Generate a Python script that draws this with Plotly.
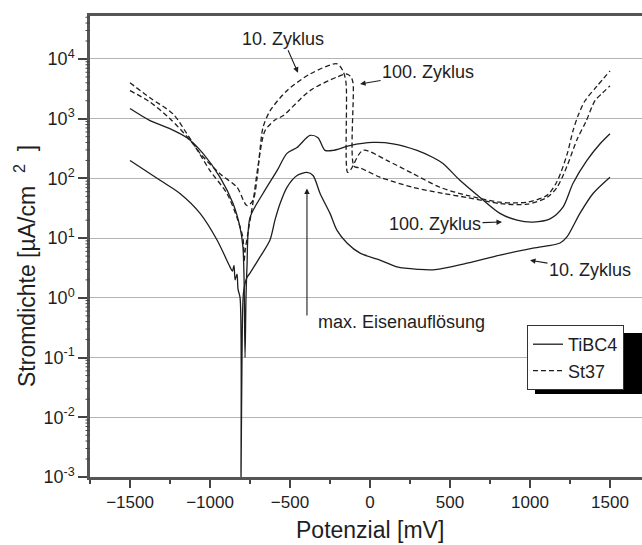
import math
import plotly.graph_objects as go

# ---- data (potential in mV, current density in µA/cm²) ----
ti10_x = [-1500, -1312, -1188, -1062, -956, -875, -860, -850, -843, -831, -825, -812, -806, -800, -790,
          -769, -750, -688, -625, -594, -562, -519, -456, -394, -356, -312, -250, -206, -144, -62, 62,
          169, 300, 394, 606, 812, 1019, 1188, 1231, 1312, 1394, 1500]
ti10_y = [200, 93, 56, 26, 9.3, 3.3, 2.8, 3.5, 2.0, 2.5, 1.4, 1.0, 0.001, 0.1, 1.26,
          2.2, 2.6, 4.8, 9.3, 20, 38, 71, 112, 126, 112, 56, 26, 13.5, 8.3, 5.6, 4.3,
          3.3, 3.0, 2.95, 3.8, 5.2, 6.8, 8.3, 10.5, 26, 56, 105]

ti100_x = [-1500, -1375, -1250, -1144, -1044, -938, -856, -812, -794, -787, -781, -775, -769, -750,
           -669, -581, -519, -456, -375, -325, -281, -231, -125, 19, 144, 294, 394, 456, 562, 688,
           812, 919, 1019, 1125, 1206, 1269, 1356, 1438, 1500]
ti100_y = [1480, 930, 680, 480, 263, 105, 38, 15, 7, 2, 0.1, 1, 3.2, 22,
           56, 135, 263, 330, 525, 480, 295, 295, 355, 400, 380, 295, 224, 178, 93, 48,
           26, 20, 18.6, 21, 33, 83, 200, 380, 560]

st10_x = [-1500, -1375, -1231, -1144, -1062, -938, -831, -769, -731, -706, -688, -669, -625, -519,
          -375, -206, -169, -150, -140, -120, -44, 106, 269, 438, 606, 812, 981, 1106, 1169, 1231,
          1269, 1300, 1344, 1420, 1500]
st10_y = [4000, 2240, 1200, 560, 263, 120, 71, 35, 43, 100, 295, 710, 1350, 2950,
          5600, 8300, 6300, 4000, 126, 141, 295, 200, 120, 71, 52, 40, 40, 52, 89, 250,
          630, 1120, 2000, 3550, 6300]

st100_x = [-1500, -1375, -1250, -1106, -1000, -894, -831, -794, -787, -780, -762, -731, -700, -656,
           -594, -544, -375, -206, -144, -119, -106, -100, -62, 62, 269, 456, 606, 812, 981, 1106,
           1169, 1231, 1294, 1350, 1406, 1450, 1500]
st100_y = [2950, 1900, 1000, 380, 135, 56, 22, 10, 4, 6.3, 12.6, 40, 160, 630,
           950, 1120, 2950, 5000, 5600, 5000, 4000, 160, 150, 105, 71, 56, 48, 38, 37, 48,
           71, 160, 450, 900, 2000, 2650, 3550]

x_ticks = [-1500, -1000, -500, 0, 500, 1000, 1500]
y_ticks = [1e-3, 1e-2, 1e-1, 1e0, 1e1, 1e2, 1e3, 1e4]
y_ticktext = ["10<sup>-3</sup>", "10<sup>-2</sup>", "10<sup>-1</sup>", "10<sup>0</sup>",
              "10<sup>1</sup>", "10<sup>2</sup>", "10<sup>3</sup>", "10<sup>4</sup>"]

# ---- figure ----
FONT = "Liberation Sans, Arial, sans-serif"
TXT = "#1e1e1e"
LINE = "#1e1e1e"
W, H = 642, 545
L, R, T, B = 90, 0, 16, 68
pw, ph = W - L - R, H - T - B
X_RANGE = [-1750, 1700]
Y_RANGE = [-3, 4.72]

# minor tick positions on the log axis (2..9 per decade), in log10 units
y_minor_log = [e + math.log10(m) for e in range(-3, 5) for m in range(2, 10)
               if e + math.log10(m) <= Y_RANGE[1]]


def px2paper(px, py):
    return (px - L) / pw, (H - B - py) / ph


def curve(x, y, name, dash, show):
    return go.Scatter(x=x, y=y, name=name, mode="lines", legendgroup=name, showlegend=show,
                      line_shape="spline", line_smoothing=0.8,
                      line_color=LINE, line_width=1.3, line_dash=dash)


fig = go.Figure()
fig.add_trace(curve(ti10_x, ti10_y, "TiBC4", "solid", True))
fig.add_trace(curve(ti100_x, ti100_y, "TiBC4", "solid", False))
fig.add_trace(curve(st10_x, st10_y, "St37", "5px,3px", True))
fig.add_trace(curve(st100_x, st100_y, "St37", "5px,3px", False))

ann = []
arrow = dict(showarrow=True, arrowhead=2, arrowsize=1, arrowwidth=1.1, arrowcolor=TXT,
             font=dict(family=FONT, size=18, color=TXT))
# upper labels
ann.append(dict(text="10. Zyklus", x=-450, y=3.77, ax=-15, ay=-34, **arrow))
ann.append(dict(text="100. Zyklus", x=-62, y=3.58, ax=68, ay=-12, **arrow))
# lower labels
ann.append(dict(text="100. Zyklus", x=825, y=1.27, ax=-67, ay=2, **arrow))
ann.append(dict(text="10. Zyklus", x=1000, y=0.63, ax=60, ay=10, **arrow))
# max. Eisenauflösung
ann.append(dict(text="max. Eisenauflösung", xref="paper", yref="paper",
                x=px2paper(401, 0)[0], y=px2paper(0, 322)[1], xanchor="center", yanchor="middle",
                showarrow=False, font=dict(family=FONT, size=18, color=TXT)))
ann.append(dict(text="", x=-394, y=1.83, axref="x", ayref="y", ax=-394, ay=-0.32,
                showarrow=True, arrowhead=2, arrowsize=1, arrowwidth=1.1, arrowcolor=TXT))
# axis titles
ann.append(dict(text="Potenzial [mV]", xref="paper", yref="paper",
                x=px2paper(370, 0)[0], y=px2paper(0, 530)[1], xanchor="center", yanchor="middle",
                showarrow=False, font=dict(family=FONT, size=23, color=TXT)))
ann.append(dict(text="Stromdichte [µA/cm\u00a0\u00a0<sup>2</sup>\u00a0\u00a0]", xref="paper", yref="paper",
                x=px2paper(25, 0)[0], y=px2paper(0, 266)[1], xanchor="center", yanchor="middle",
                showarrow=False, textangle=-90,
                font=dict(family=FONT, size=23, color=TXT)))
# minor ticks of the log y axis: headless arrows pointing at the axis line
for lv in y_minor_log:
    ann.append(dict(text="", xref="paper", yref="y", x=0, y=lv, ax=-6, ay=0,
                    showarrow=True, arrowhead=0, arrowwidth=1, arrowcolor="#444", standoff=0,
                    startstandoff=0))

# legend shadow
sx0, sy0 = px2paper(535, 394)
sx1, sy1 = px2paper(660, 333)
shapes = [dict(type="rect", xref="paper", yref="paper", x0=sx0, y0=sy0, x1=sx1, y1=sy1,
               fillcolor="black", line=dict(width=0), layer="above")]

lx, ly = px2paper(527, 325)

fig.update_layout(
    width=W, height=H,
    margin=dict(l=L, r=R, t=T, b=B),
    paper_bgcolor="white", plot_bgcolor="white",
    font=dict(family=FONT, color=TXT),
    annotations=ann,
    shapes=shapes,
    legend=dict(x=lx, y=ly, xanchor="left", yanchor="top",
                bgcolor="white", bordercolor="#333", borderwidth=1,
                font=dict(family=FONT, size=18, color=TXT), tracegroupgap=0),
    xaxis=dict(range=X_RANGE, tickvals=x_ticks, ticks="outside", ticklen=8, tickwidth=1.5,
               tickcolor="#444", showline=True, linecolor="#555", linewidth=2.5, mirror=True,
               showgrid=False, zeroline=False,
               tickfont=dict(family=FONT, size=17, color=TXT),
               minor=dict(ticks="outside", ticklen=4, tickcolor="#444", dtick=250, tick0=-1750,
                          showgrid=False)),
    yaxis=dict(type="log", range=Y_RANGE, tickvals=y_ticks, ticktext=y_ticktext,
               ticks="outside", ticklen=9, tickwidth=1.5, tickcolor="#444",
               showline=True, linecolor="#555", linewidth=2.5,
               showgrid=True, gridcolor="#b4b4b4", gridwidth=1, zeroline=False,
               tickfont=dict(family=FONT, size=18, color=TXT)),
)

fig.write_html("out.html")
